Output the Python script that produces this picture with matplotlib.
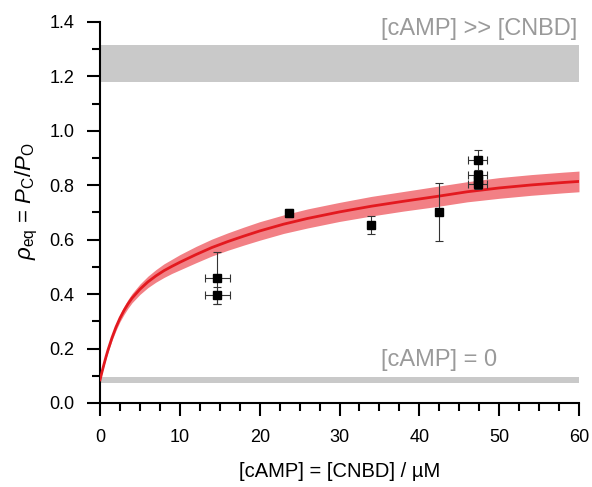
import numpy as np
import matplotlib
matplotlib.use("Agg")
import matplotlib.pyplot as plt
from matplotlib.ticker import MultipleLocator

plt.rcParams['font.family'] = ['Liberation Sans', 'DejaVu Sans']
plt.rcParams['mathtext.fontset'] = 'custom'
plt.rcParams['mathtext.rm'] = 'Liberation Sans'
plt.rcParams['mathtext.it'] = 'Liberation Sans:italic'

# measured points: concentration (uM), rho_eq, errors
conc = [14.7, 14.7, 23.7, 33.9, 42.5, 47.3, 47.3, 47.3, 47.3]
rho = [0.458, 0.395, 0.697, 0.654, 0.703, 0.893, 0.836, 0.820, 0.803]
rho_err = [0.095, 0.030, 0.015, 0.034, 0.107, 0.037, 0.015, 0.010, 0.018]
conc_err = [1.55, 1.55, 0.3, 0.3, 0.0, 1.2, 1.2, 0.0, 1.2]

# fitted curve, with half width of its confidence band
fit_x = [0, 0.25, 0.5, 0.75, 1.0, 1.5, 2.0, 2.5, 3.0, 3.5, 4.0, 5.0, 6.0, 7.0,
         8.0, 9.0, 10.0, 12.0, 14.0, 16.0, 18.0, 20.0, 23.0, 26.0, 30.0, 34.0,
         38.0, 42.0, 46.0, 50.0, 54.0, 58.0, 60.0]
fit_y = [0.085, 0.115, 0.143, 0.170, 0.195, 0.240, 0.279, 0.312, 0.340, 0.364,
         0.385, 0.418, 0.445, 0.467, 0.486, 0.502, 0.517, 0.545, 0.571, 0.593,
         0.613, 0.632, 0.657, 0.678, 0.702, 0.723, 0.741, 0.758, 0.776, 0.790,
         0.801, 0.810, 0.814]
fit_hw = [0.0, 0.003, 0.005, 0.006, 0.008, 0.010, 0.012, 0.013, 0.015, 0.016,
          0.017, 0.019, 0.021, 0.023, 0.025, 0.026, 0.028, 0.030, 0.031, 0.032,
          0.033, 0.034, 0.034, 0.035, 0.035, 0.036, 0.036, 0.037, 0.037, 0.038,
          0.038, 0.038, 0.038]

# limiting values of rho_eq
high_band = (1.181, 1.316)
zero_band = (0.075, 0.095)

fig = plt.figure(figsize=(5.92, 4.87), dpi=100)
ax = fig.add_axes([0.169, 0.1725, 0.809, 0.7825])

ax.axhspan(*high_band, color='#c9c9c9', lw=0, zorder=1)
ax.axhspan(*zero_band, color='#c9c9c9', lw=0, zorder=1)
ax.text(35.2, 1.333, '[cAMP] >> [CNBD]', color='#9a9a9a', fontsize=17, va='bottom')
ax.text(35.2, 0.116, '[cAMP] = 0', color='#9a9a9a', fontsize=17, va='bottom')

fx = np.array(fit_x)
fy = np.array(fit_y)
fh = np.array(fit_hw)
ax.fill_between(fx, fy - fh, fy + fh, color='#f28085', lw=0, zorder=2)
ax.plot(fx, fy, color='#e3191f', lw=2, zorder=3)

ax.errorbar(conc, rho, yerr=rho_err, xerr=conc_err, fmt='s', color='black',
            ms=6, ecolor='#333333', elinewidth=0.8, capsize=3, capthick=0.8,
            zorder=4)

ax.set_xlim(0, 60)
ax.set_ylim(0, 1.4)
ax.xaxis.set_major_locator(MultipleLocator(10))
ax.xaxis.set_minor_locator(MultipleLocator(2.5))
ax.yaxis.set_major_locator(MultipleLocator(0.2))
ax.yaxis.set_minor_locator(MultipleLocator(0.1))
ax.yaxis.set_major_formatter(plt.FormatStrFormatter('%.1f'))

for s in ['top', 'right']:
    ax.spines[s].set_visible(False)
for s in ['left', 'bottom']:
    ax.spines[s].set_linewidth(1.5)
ax.tick_params(which='major', direction='out', length=9.5, width=1.5, labelsize=13, pad=9)
ax.tick_params(which='minor', direction='out', length=6, width=1.5)

ax.set_xlabel('[cAMP] = [CNBD] / µM', fontsize=14.5, labelpad=12)
ax.set_ylabel(r'$\rho_{\rm eq}$ = $P_{\rm C}/P_{\rm O}$', fontsize=16, labelpad=3)
ax.yaxis.set_label_coords(-0.125, 0.53)

fig.savefig('out.png', dpi=100)
